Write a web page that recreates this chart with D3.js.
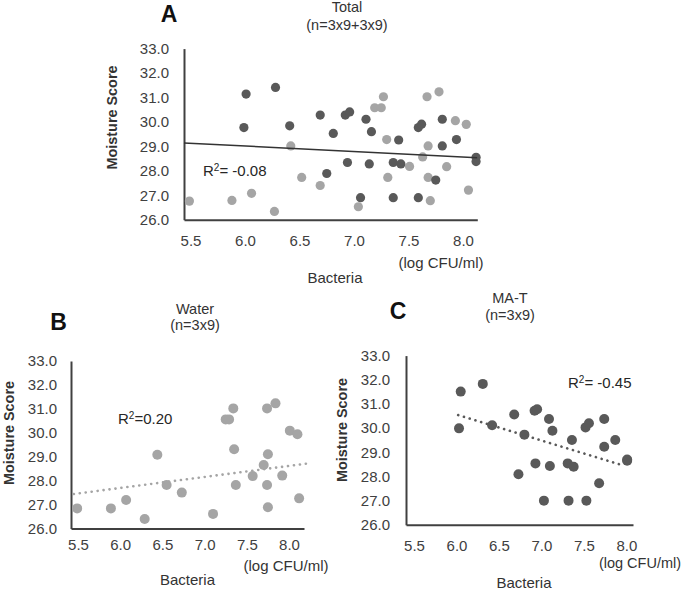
<!DOCTYPE html>
<html><head><meta charset="utf-8">
<script src="https://cdn.jsdelivr.net/npm/d3@7"></script>
<style>body{margin:0;background:#fff}svg{display:block}</style>
</head><body>
<svg id="c" width="685" height="591"></svg>
<script>
// ---------- data ----------
const yTicks = [26, 27, 28, 29, 30, 31, 32, 33];
const xTicks = [5.5, 6.0, 6.5, 7.0, 7.5, 8.0];

// Panel A (Total): water (light) + MA-T (dark)
const totalWaterX = [5.49,5.88,6.06,6.27,6.42,6.52,6.69,7.04,7.19,7.25,7.27,7.30,7.31,7.51,7.63,7.67,7.68,7.68,7.70,7.78,7.85,7.93,8.03,8.05];
const totalWaterY = [26.76,26.79,27.08,26.34,29.02,27.73,27.40,26.53,30.58,30.58,31.03,29.28,27.73,28.18,28.57,31.03,29.02,27.73,26.78,31.23,28.17,30.05,29.90,27.21];
const totalMatX = [5.99,6.01,6.28,6.41,6.69,6.75,6.81,6.92,6.96,6.94,7.06,7.11,7.16,7.14,7.36,7.36,7.41,7.43,7.59,7.59,7.62,7.75,7.81,7.81,7.94,8.12,8.12];
const totalMatY = [29.77,31.14,31.41,29.84,30.28,27.89,29.53,30.28,30.41,28.34,26.90,30.11,29.60,28.28,28.34,26.90,29.26,28.28,26.90,29.77,29.91,27.62,30.11,29.02,29.28,28.55,28.38];
const trendAX = [5.44, 8.13];
const trendAY = [29.14, 28.53];

// Panel B (Water)
const waterX = [5.49,5.89,6.07,6.29,6.44,6.55,6.73,7.10,7.25,7.29,7.34,7.35,7.37,7.57,7.70,7.75,7.74,7.74,7.84,7.75,7.92,8.01,8.10,8.12];
const waterY = [26.84,26.84,27.19,26.40,29.08,27.82,27.50,26.61,30.56,30.56,31.02,29.31,27.82,28.19,28.65,29.10,27.82,31.02,31.23,26.89,28.21,30.09,29.94,27.26];
const trendBX = [5.45, 8.23];
const trendBY = [27.44, 28.72];

// Panel C (MA-T)
const matX = [6.05,6.31,6.03,6.42,6.68,6.73,6.92,6.95,7.09,7.13,6.80,6.93,7.10,7.31,7.38,7.36,7.52,7.56,7.74,7.87,7.74,8.01,8.01,7.68,7.03,7.32,7.53];
const matY = [31.51,31.83,29.99,30.12,30.56,28.09,30.72,30.78,30.38,29.89,29.73,28.54,28.43,28.54,28.40,29.51,30.03,30.20,30.38,29.51,29.23,28.65,28.70,27.72,27.00,27.00,27.00];
const trendCX = [6.02, 7.95];
const trendCY = [30.54, 28.47];

// ---------- drawing ----------
const svg = d3.select("#c");
const FONT = "'Liberation Sans', Arial, Helvetica, sans-serif";
const DARK = "#595959", LIGHT = "#a5a5a5", TXT = "#404040";

function panel(cfg) {
  const x = d3.scaleLinear().domain([5.5, 8.0]).range([cfg.x55, cfg.x80]);
  const y = d3.scaleLinear().domain([26, 33]).range([cfg.y26, cfg.y33]);
  const g = svg.append("g");
  const xd0 = x.invert(cfg.xl), xd1 = x.invert(cfg.xr);
  const xs = x.copy().domain([xd0, xd1]).range([cfg.xl, cfg.xr]);

  // y axis
  const ya = g.append("g").attr("transform", `translate(${cfg.xl},0)`)
    .call(d3.axisLeft(y).tickValues(yTicks).tickFormat(d3.format(".1f"))
      .tickSize(0).tickPadding(cfg.yPad));
  ya.select(".domain").attr("stroke", "#404040").attr("stroke-width", 2);
  ya.selectAll("text").attr("font-family", FONT).attr("font-size", 15).attr("fill", TXT);

  // x axis
  const xa = g.append("g").attr("transform", `translate(0,${cfg.y26})`)
    .call(d3.axisBottom(xs).tickValues(xTicks).tickFormat(d3.format(".1f"))
      .tickSize(0).tickPadding(cfg.xPad));
  xa.select(".domain").attr("stroke", "#404040").attr("stroke-width", 2);
  xa.selectAll("text").attr("font-family", FONT).attr("font-size", 15).attr("fill", TXT);

  // points
  cfg.series.forEach(s => {
    g.append("g").selectAll("circle").data(d3.zip(s.xs, s.ys)).join("circle")
      .attr("cx", d => xs(d[0])).attr("cy", d => y(d[1]))
      .attr("r", cfg.r).attr("fill", s.color);
  });

  // trend
  const line = d3.line().x(d => xs(d[0])).y(d => y(d[1]));
  g.append("path").datum(d3.zip(cfg.trend.xs, cfg.trend.ys))
    .attr("d", line).attr("fill", "none")
    .attr("stroke", cfg.trend.color).attr("stroke-width", cfg.trend.width)
    .attr("stroke-dasharray", cfg.trend.dash || null)
    .attr("stroke-linecap", cfg.trend.dash ? "round" : "butt");

  // letters & titles
  g.append("text").attr("x", cfg.letter[0]).attr("y", cfg.letter[1]).attr("text-anchor", "middle")
    .attr("font-family", FONT).attr("font-weight", "bold").attr("font-size", 23).attr("fill", "#111")
    .text(cfg.letter[2]);
  g.append("text").attr("x", cfg.title[0]).attr("y", cfg.title[1]).attr("text-anchor", "middle")
    .attr("font-family", FONT).attr("font-size", 14.5).attr("fill", "#333").text(cfg.title[2]);
  g.append("text").attr("x", cfg.sub[0]).attr("y", cfg.sub[1]).attr("text-anchor", "middle")
    .attr("font-family", FONT).attr("font-size", 14.5).attr("fill", "#333").text(cfg.sub[2]);

  // y label
  g.append("text").attr("transform", `translate(${cfg.ylab[0]},${cfg.ylab[1]}) rotate(-90)`)
    .attr("text-anchor", "middle").attr("font-family", FONT).attr("font-weight", "bold")
    .attr("font-size", 14).attr("fill", "#333").attr("dy", "0.35em")
    .attr("textLength", 104).attr("lengthAdjust", "spacingAndGlyphs").text("Moisture Score");

  // x labels
  g.append("text").attr("x", cfg.xlab[0]).attr("y", cfg.xlab[1]).attr("text-anchor", "middle")
    .attr("font-family", FONT).attr("font-size", 15).attr("fill", "#333").attr("dy", "0.35em").text("Bacteria");
  g.append("text").attr("x", cfg.unit[0]).attr("y", cfg.unit[1]).attr("text-anchor", "middle")
    .attr("font-family", FONT).attr("font-size", cfg.unitSize || 15).attr("fill", "#333").attr("dy", "0.35em").text("(log CFU/ml)");

  // R2
  const rt = g.append("text").attr("x", cfg.r2[0]).attr("y", cfg.r2[1]).attr("text-anchor", "start")
    .attr("font-family", FONT).attr("font-size", 15).attr("fill", "#262626").attr("dy", "0.35em");
  rt.append("tspan").text("R");
  rt.append("tspan").attr("font-size", 10).attr("dy", "-0.5em").text("2");
  rt.append("tspan").attr("dy", "0.35em").text(cfg.r2[2]);
}

panel({
  x55: 190.5, x80: 463, xl: 184, xr: 477.3, y26: 219.7, y33: 48.6, yPad: 15, xPad: 15.5, r: 4.6,
  series: [{xs: totalWaterX, ys: totalWaterY, color: LIGHT}, {xs: totalMatX, ys: totalMatY, color: DARK}],
  trend: {xs: trendAX, ys: trendAY, color: "#333", width: 1.5},
  letter: [169, 22, "A"], title: [347, 12, "Total"], sub: [347, 30, "(n=3x9+3x9)"],
  ylab: [112.5, 117.5], xlab: [335, 278], unit: [441, 263], r2: [203, 170.7, "= -0.08"]
});

panel({
  x55: 78, x80: 289, xl: 71, xr: 304, y26: 528.5, y33: 361, yPad: 14, xPad: 11, r: 5,
  series: [{xs: waterX, ys: waterY, color: LIGHT}],
  trend: {xs: trendBX, ys: trendBY, color: LIGHT, width: 2.6, dash: "0.1,5.9"},
  letter: [58.5, 329.5, "B"], title: [195, 314, "Water"], sub: [195, 330, "(n=3x9)"],
  ylab: [8.8, 433], xlab: [187.5, 580], unit: [286, 566], r2: [118, 418.3, "=0.20"]
});

panel({
  x55: 414, x80: 626.3, xl: 406, xr: 633, y26: 524.8, y33: 355.6, yPad: 16, xPad: 15.5, r: 5,
  series: [{xs: matX, ys: matY, color: DARK}],
  trend: {xs: trendCX, ys: trendCY, color: DARK, width: 2.6, dash: "0.1,5.9"},
  letter: [398, 318.5, "C"], title: [510, 303, "MA-T"], sub: [510, 320, "(n=3x9)"],
  ylab: [342, 430], xlab: [524, 583], unit: [640, 563], unitSize: 14.5, r2: [568, 382.7, "= -0.45"]
});
</script>
</body></html>
